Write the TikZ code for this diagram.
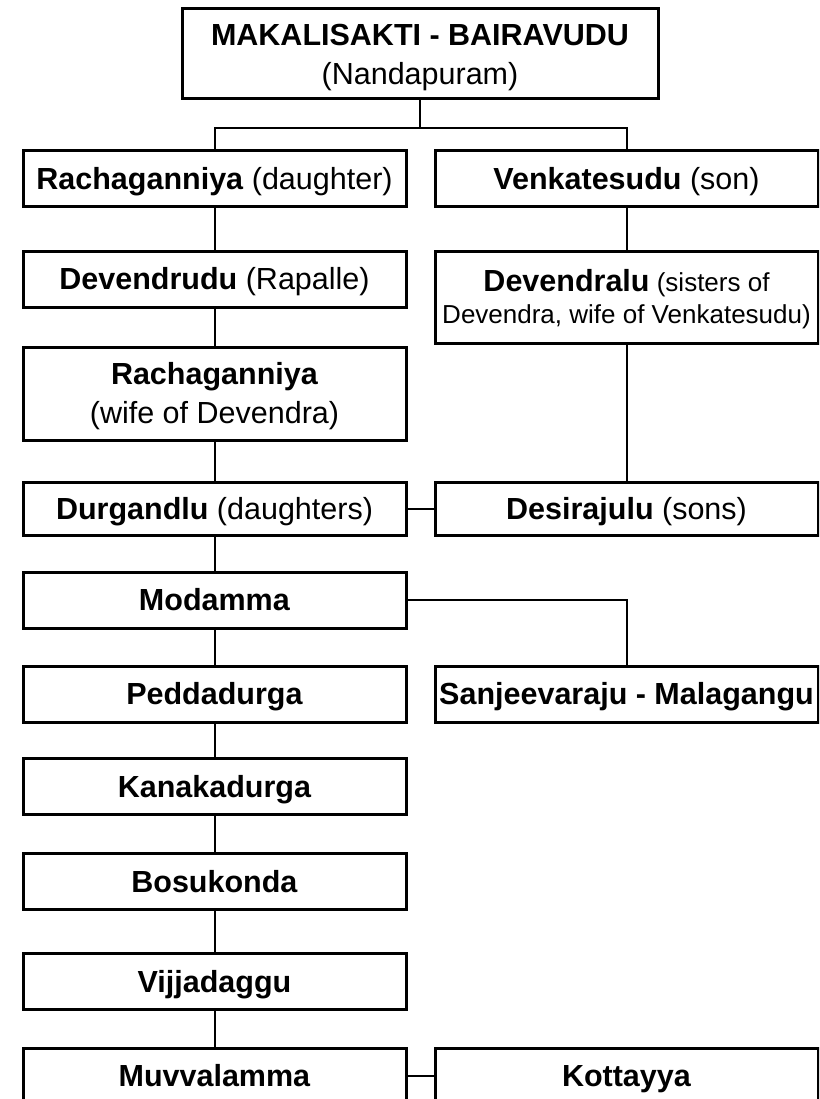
\documentclass[tikz,border=0pt]{standalone}
\usepackage{fontspec}
\setmainfont{Liberation Sans}
\newcommand{\twolines}[2]{\begin{tabular}[t]{@{}c@{}}#1\\#2\end{tabular}}
\begin{document}
\begin{tikzpicture}[x=1pt,y=-1pt,
  person/.style={draw=black, line width=3pt, inner sep=0pt,
    minimum width=383pt, minimum height=56pt,
    text height=26pt, text depth=5pt,
    font=\fontsize{30.5}{39}\selectfont},
  link/.style={draw=black, line width=2pt}]
\clip (0,0) rectangle (819,1099);
\fill[white] (0,0) rectangle (819,1099);
% nodes
\node[person, minimum width=476pt, minimum height=90pt, text height=20pt, text depth=36pt] (top) at (420,54)
  {\twolines{\textbf{MAKALISAKTI - BAIRAVUDU}}{(Nandapuram)}};
\node[person] (ra) at (214.5,179) {\textbf{Rachaganniya} (daughter)};
\node[person] (ve) at (626.5,179) {\textbf{Venkatesudu} (son)};
\node[person] (dv) at (214.5,279) {\textbf{Devendrudu} (Rapalle)};
\node[person, minimum height=92pt, text height=20pt, text depth=32pt,
  font=\fontsize{26}{32}\selectfont] (dl) at (626.5,297)
  {\twolines{{\fontsize{30.5}{32}\selectfont\textbf{Devendralu}} (sisters of}{Devendra, wife of Venkatesudu)}};
\node[person, minimum height=93pt, text height=20pt, text depth=39pt] (rw) at (214.5,393.5)
  {\twolines{\textbf{Rachaganniya}}{(wife of Devendra)}};
\node[person, minimum height=53pt] (du) at (214.5,508.5) {\textbf{Durgandlu} (daughters)};
\node[person, minimum height=53pt] (de) at (626.5,508.5) {\textbf{Desirajulu} (sons)};
\node[person] (mo) at (214.5,600) {\textbf{Modamma}};
\node[person] (pe) at (214.5,694) {\textbf{Peddadurga}};
\node[person] (sa) at (626.5,694) {\textbf{Sanjeevaraju - Malagangu}};
\node[person] (ka) at (214.5,786.5) {\textbf{Kanakadurga}};
\node[person] (bo) at (214.5,881.5) {\textbf{Bosukonda}};
\node[person] (vi) at (214.5,981.5) {\textbf{Vijjadaggu}};
\node[person] (mu) at (214.5,1076) {\textbf{Muvvalamma}};
\node[person] (ko) at (626.5,1076) {\textbf{Kottayya}};
% connectors
\coordinate (j) at (420,128);
\draw[link] (top.south) -- (j);
\draw[link] (ra.north) |- (j) -| (ve.north);
\draw[link] (ra) -- (dv);
\draw[link] (dv) -- (rw);
\draw[link] (rw) -- (du);
\draw[link] (du) -- (mo);
\draw[link] (mo) -- (pe);
\draw[link] (pe) -- (ka);
\draw[link] (ka) -- (bo);
\draw[link] (bo) -- (vi);
\draw[link] (vi) -- (mu);
\draw[link] (ve) -- (dl);
\draw[link] (dl) -- (de);
\draw[link] (du) -- (de);
\draw[link] (mo.east) -| (sa.north);
\draw[link] (mu) -- (ko);
\end{tikzpicture}
\end{document}
